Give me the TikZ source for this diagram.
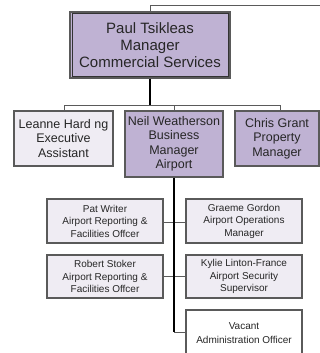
\documentclass[tikz,border=0pt]{standalone}
\usepackage{fontspec}
\setmainfont{Liberation Sans}
\definecolor{purp}{HTML}{BFB2D3}
\definecolor{lite}{HTML}{EFECF3}
\definecolor{edge}{HTML}{5A5A5A}
\begin{document}
\begin{tikzpicture}[x=1pt,y=1pt,
  boxbase/.style={draw=edge, line width=1.1pt, align=center, inner sep=0pt, text=black!85},
  topbox/.style={boxbase, fill=purp, minimum width=160, minimum height=66,
     font=\fontsize{15}{17}\selectfont},
  midbox/.style={boxbase, minimum height=55, font=\fontsize{12.5}{14.5}\selectfont},
  lowbox/.style={boxbase, fill=lite, minimum width=116, minimum height=44,
     font=\fontsize{10}{12.5}\selectfont},
  thin/.style={draw=edge, line width=0.9pt},
  trunk/.style={draw=black, line width=1.8pt}]
\useasboundingbox (0,0) rectangle (320,-353);
\fill[white] (0,0) rectangle (320,-353);

% top
\node[topbox] (top) at (150,-45) {Paul Tsikleas\\Manager\\Commercial Services};
\draw[draw=black!80, line width=0.9pt] ([shift={(2.5,-2.5)}]top.north west) rectangle ([shift={(-2.5,2.5)}]top.south east);
\coordinate (tr) at (320,-5);
\draw[thin] (top.north) |- (tr);

% row 2
\node[midbox, fill=lite, minimum width=99] (leanne) at (63.5,-138.5) {Leanne Hard ng\\Executive\\Assistant};
\node[midbox, fill=purp, minimum width=98, minimum height=66] (neil) at (174,-144) {Neil Weatherson\\Business\\Manager\\Airport};
\node[midbox, fill=purp, minimum width=84] (chris) at (277,-138.5) {Chris Grant\\Property\\Manager};

\coordinate (bus) at (150,-105);
\coordinate (busL) at (64,-105);
\coordinate (busR) at (280,-105);
\coordinate (chrisTop) at (280,-111);
\draw[trunk, line width=1.5pt] (top.south) -- (bus);
\draw[thin] (busL) -- (busR);
\draw[thin] (busL) -- (leanne.north -| busL);
\draw[thin] (neil.north) -- (neil.north |- busL);
\draw[thin] (busR) -- (chrisTop);

% row 3
\node[lowbox] (pat) at (105,-221) {Pat Writer\\Airport Reporting \&\\Facilities Offcer};
\node[lowbox] (graeme) at (244,-221) {Graeme Gordon\\Airport Operations\\Manager};
\node[lowbox, minimum height=43] (robert) at (105,-276.5) {Robert Stoker\\Airport Reporting \&\\Facilities Offcer};
\node[lowbox, minimum height=43] (kylie) at (244,-276.5) {Kylie Linton-France\\Airport Security\\Supervisor};
\node[lowbox, fill=white, minimum height=48, font=\fontsize{10}{14}\selectfont] (vacant) at (244,-334) {\raisebox{3pt}{\begin{tabular}{@{}c@{}}Vacant\\Administration Officer\end{tabular}}};

\coordinate (trunkEnd) at (174,-332);
\draw[thin] (pat.east |- 0,-222) -- (graeme.west |- 0,-222);
\draw[thin] (robert.east |- 0,-276) -- (kylie.west |- 0,-276);
\draw[thin] (trunkEnd) -- (vacant.west |- trunkEnd);
\draw[trunk] (neil.south) -- (trunkEnd);
\end{tikzpicture}
\end{document}
